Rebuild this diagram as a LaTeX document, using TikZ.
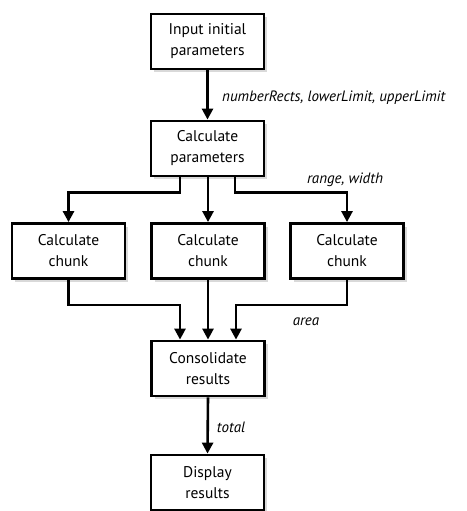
\documentclass[tikz,border=0pt]{standalone}
\usepackage{fontspec}
\setmainfont{PT Sans}
\usetikzlibrary{arrows.meta,shadows}
\begin{document}
\begin{tikzpicture}[x=1pt,y=-1pt,
  box/.style={draw=black,line width=2.8pt,fill=white,minimum width=113pt,minimum height=55pt,align=center,font=\fontsize{15.5}{21}\selectfont,inner sep=2pt,
    drop shadow={shadow xshift=3pt,shadow yshift=-3pt,fill=black!25,opacity=0.6}},
  arr/.style={line width=2.6pt,-{Triangle[length=11pt,width=11pt]}},
  lbl/.style={font=\fontsize{15}{17}\itshape\selectfont,inner sep=0pt}]
\useasboundingbox (0,0) rectangle (466,511);
\node[box] (b1) at (207.5,41.5) {Input initial\\parameters};
\node[box] (b2) at (207.5,148.5) {Calculate\\parameters};
\node[box] (cl) at (68.5,251) {Calculate\\chunk};
\node[box] (cm) at (208,251) {Calculate\\chunk};
\node[box] (cr) at (347,251) {Calculate\\chunk};
\node[box] (co) at (208,368.5) {Consolidate\\results};
\node[box] (di) at (207.5,482.5) {Display\\results};
\draw[arr] (b1.south) -- (b2.north);
\draw[arr] ([xshift=-27.5pt]b2.south) -- ++(0,15) -| (cl.north);
\draw[arr] (b2.south -| cm.north) -- (cm.north);
\draw[arr] ([xshift=27.5pt]b2.south) -- ++(0,15) -| (cr.north);
\draw[arr] (cl.south) -- ++(0,25) -| ([xshift=-28pt]co.north);
\draw[arr] (cm.south) -- (co.north);
\draw[arr] (cr.south) -- ++(0,25) -| ([xshift=28pt]co.north);
\draw[arr] (co.south) -- (di.north);
\node[lbl,anchor=west] (l1) at (222,98) {numberRects, lowerLimit, upperLimit};
\node[lbl] (l2) at (345,180) {range, width};
\node[lbl] (l3) at (306,322) {area};
\node[lbl] (l4) at (231,427) {total};
\end{tikzpicture}
\end{document}
